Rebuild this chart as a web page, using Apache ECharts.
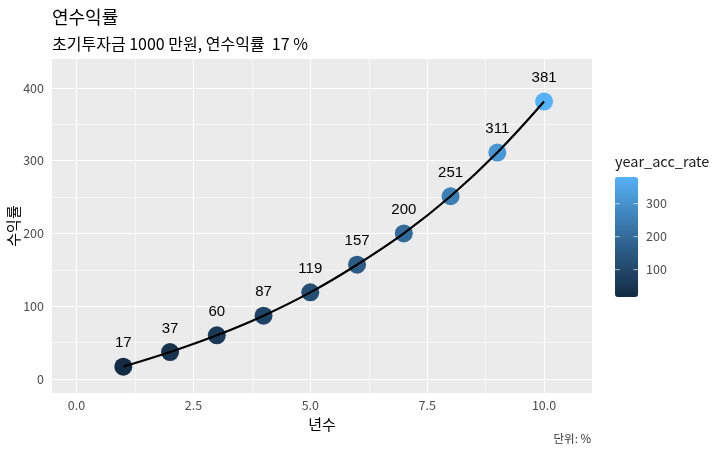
<!DOCTYPE html>
<html>
<head>
<meta charset="utf-8">
<script src="https://cdn.jsdelivr.net/npm/echarts@6/dist/echarts.min.js"></script>
<style>
html,body{margin:0;padding:0;background:#fff;}
#chart{width:720px;height:461px;}
</style>
</head>
<body>
<div id="chart"></div>
<script>
// ---- data ----
const years = [1, 2, 3, 4, 5, 6, 7, 8, 9, 10];
const accRate = [17, 37, 60, 87, 119, 157, 200, 251, 311, 381];
const xTicks = [0, 2.5, 5, 7.5, 10];
const xTickLabels = ['0.0', '2.5', '5.0', '7.5', '10.0'];
const xMinor = [1.25, 3.75, 6.25, 8.75];
const yTicks = [0, 100, 200, 300, 400];
const yMinor = [50, 150, 250, 350];
const legendTicks = [100, 200, 300];

const titleText = '연수익률';
const subtitleText = '초기투자금 1000 만원, 연수익률  17 %';
const xName = '년수';
const yName = '수익률';
const captionText = '단위: %';
const legendTitle = 'year_acc_rate';

const KR = "'Noto Sans CJK KR', 'Noto Sans', sans-serif";
const LAB = "'Liberation Sans', Arial, sans-serif";

const points = years.map((x, i) => [x, accRate[i]]);
const cMin = Math.min(...accRate), cMax = Math.max(...accRate);

// legend bar geometry
const barLeft = 615, barTop = 177, barW = 23, barH = 120;

const gridLines = [];
xTicks.forEach(v => gridLines.push({xAxis: v, lineStyle: {color: '#fff', width: 1.1, type: 'solid'}}));
xMinor.forEach(v => gridLines.push({xAxis: v, lineStyle: {color: '#fff', width: 0.55, type: 'solid'}}));
yTicks.forEach(v => gridLines.push({yAxis: v, lineStyle: {color: '#fff', width: 1.1, type: 'solid'}}));
yMinor.forEach(v => gridLines.push({yAxis: v, lineStyle: {color: '#fff', width: 0.55, type: 'solid'}}));

const graphics = [
  {type: 'text', left: 615, top: 154, style: {text: legendTitle, font: '14.5px ' + KR, fill: '#1a1a1a'}},
  {type: 'text', right: 129, top: 433, style: {text: captionText, font: '11.5px ' + KR, fill: '#333'}}
];
legendTicks.forEach(v => {
  const y = barTop + barH - (v - cMin) / (cMax - cMin) * barH;
  graphics.push({type: 'text', x: barLeft + barW + 8, y: y, style: {text: String(v), font: '12.5px ' + KR, fill: '#4d4d4d', verticalAlign: 'middle', textVerticalAlign: 'middle'}, z: 10});
  graphics.push({type: 'line', shape: {x1: barLeft, y1: y, x2: barLeft + 4.6, y2: y}, style: {stroke: 'rgba(255,255,255,0.8)', lineWidth: 0.8}, z: 10});
  graphics.push({type: 'line', shape: {x1: barLeft + barW - 4.6, y1: y, x2: barLeft + barW, y2: y}, style: {stroke: 'rgba(255,255,255,0.8)', lineWidth: 0.8}, z: 10});
});

const chart = echarts.init(document.getElementById('chart'), null, {renderer: 'canvas'});
chart.setOption({
  animation: false,
  backgroundColor: '#fff',
  title: [
    {text: titleText, left: 52, top: 8, padding: 0, textStyle: {fontFamily: KR, fontSize: 18, fontWeight: 'normal', color: '#000'}},
    {text: subtitleText, left: 52, top: 36, padding: 0, textStyle: {fontFamily: KR, fontSize: 16, fontWeight: 'normal', color: '#000'}}
  ],
  grid: {left: 52, right: 128, top: 59, bottom: 68, show: true, backgroundColor: '#EBEBEB', borderWidth: 0, outerBoundsMode: 'none', containLabel: false},
  xAxis: {
    type: 'value', min: -0.525, max: 11.025,
    name: xName, nameLocation: 'middle', nameGap: 22,
    nameTextStyle: {fontFamily: KR, fontSize: 15, color: '#000'},
    axisLine: {show: false},
    axisTick: {show: true, length: 3, customValues: xTicks, lineStyle: {color: '#333', width: 1}},
    axisLabel: {customValues: xTicks, margin: 6, fontFamily: KR, fontSize: 12.5, color: '#4d4d4d',
      formatter: v => xTickLabels[xTicks.indexOf(v)] ?? String(v)},
    splitLine: {show: false}
  },
  yAxis: {
    type: 'value', min: -19.2, max: 439.5,
    name: yName, nameLocation: 'middle', nameGap: 31, nameRotate: 90, nameMoveOverlap: false,
    nameTextStyle: {fontFamily: KR, fontSize: 15, color: '#000'},
    axisLine: {show: false},
    axisTick: {show: true, length: 3, customValues: yTicks, lineStyle: {color: '#333', width: 1}},
    axisLabel: {customValues: yTicks, margin: 8, fontFamily: KR, fontSize: 12.5, color: '#4d4d4d'},
    splitLine: {show: false}
  },
  visualMap: {
    type: 'continuous', seriesIndex: 1, dimension: 1,
    min: cMin, max: cMax, calculable: false, hoverLink: false, realtime: false,
    left: barLeft, top: barTop, itemWidth: barW, itemHeight: barH, padding: 0,
    text: null, showLabel: false,
    inRange: {color: ['#132B43', '#336A98', '#56B1F7']}
  },
  graphic: graphics,
  series: [
    {type: 'line', data: [], z: 1, silent: true,
      markLine: {silent: true, z: 1, symbol: 'none', label: {show: false}, animation: false, data: gridLines}},
    {type: 'scatter', data: points, symbolSize: 18, z: 3,
      itemStyle: {opacity: 1},
      label: {show: true, position: 'top', distance: 7, fontFamily: LAB, fontSize: 15, color: '#000',
        formatter: p => String(p.value[1])}},
    {type: 'line', data: points, smooth: 0.4, showSymbol: false, z: 4,
      lineStyle: {color: '#000', width: 2.2}}
  ]
});
</script>
</body>
</html>
